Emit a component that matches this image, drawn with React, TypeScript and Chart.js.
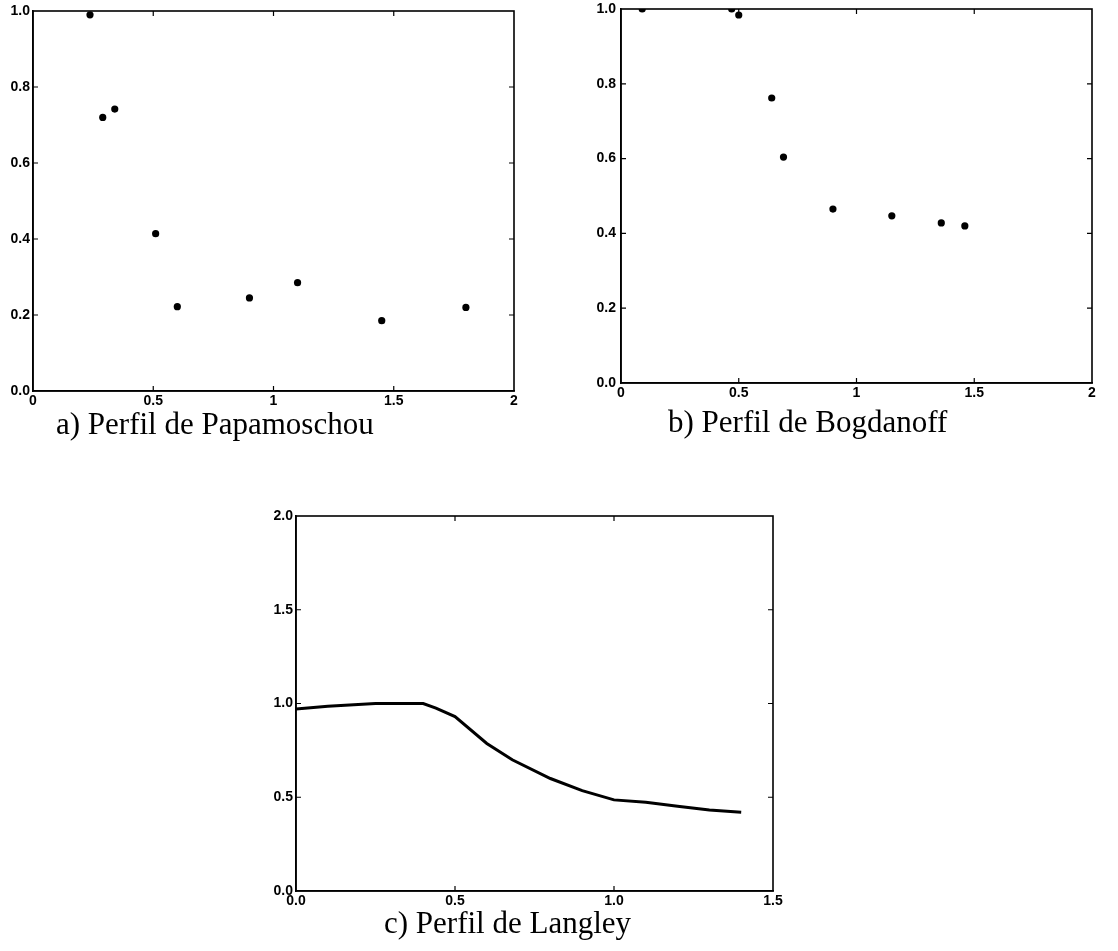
import React, { useEffect, useRef } from "react";
import { Chart, registerables } from "chart.js";

Chart.register(...registerables);

// a) Papamoschou profile: measured points
const papX = [0.237, 0.29, 0.34, 0.51, 0.6, 0.9, 1.1, 1.45, 1.8];
const papY = [0.99, 0.72, 0.742, 0.414, 0.222, 0.245, 0.285, 0.185, 0.22];

// b) Bogdanoff profile: measured points
const bogX = [0.09, 0.47, 0.5, 0.64, 0.69, 0.9, 1.15, 1.36, 1.46];
const bogY = [1.0, 1.0, 0.984, 0.762, 0.604, 0.465, 0.447, 0.428, 0.42];

// c) Langley profile: continuous curve
const lanX = [0, 0.1, 0.25, 0.4, 0.44, 0.5, 0.6, 0.68, 0.8, 0.9, 1.0, 1.1, 1.2, 1.3, 1.4];
const lanY = [0.97, 0.985, 1.0, 1.0, 0.975, 0.93, 0.787, 0.7, 0.6, 0.535, 0.486, 0.473, 0.452, 0.432, 0.42];

// axis ticks
const abXTicks = [0, 0.5, 1, 1.5, 2];
const abXLabels = ["0", "0.5", "1", "1.5", "2"];
const abYTicks = [0, 0.2, 0.4, 0.6, 0.8, 1.0];
const abYLabels = ["0.0", "0.2", "0.4", "0.6", "0.8", "1.0"];
const cXTicks = [0, 0.5, 1, 1.5];
const cXLabels = ["0.0", "0.5", "1.0", "1.5"];
const cYTicks = [0, 0.5, 1, 1.5, 2];
const cYLabels = ["0.0", "0.5", "1.0", "1.5", "2.0"];

const captions = ["a) Perfil de Papamoschou", "b) Perfil de Bogdanoff", "c) Perfil de Langley"];

// frame on all four sides plus short inward tick marks
const framePlugin = {
  id: "frameTicks",
  beforeDatasetsDraw(chart: any) {
    const { ctx, chartArea: a, scales } = chart;
    const len = 5;
    ctx.save();
    ctx.strokeStyle = "#000";
    ctx.lineWidth = 1.6;
    ctx.strokeRect(a.left, a.top, a.right - a.left, a.bottom - a.top);
    ctx.lineWidth = 1.2;
    ctx.beginPath();
    scales.x.ticks.forEach((t: any) => {
      const px = scales.x.getPixelForValue(t.value);
      if (Math.abs(px - a.left) < 2 || Math.abs(px - a.right) < 2) return;
      ctx.moveTo(px, a.bottom);
      ctx.lineTo(px, a.bottom - len);
      ctx.moveTo(px, a.top);
      ctx.lineTo(px, a.top + len);
    });
    scales.y.ticks.forEach((t: any) => {
      const py = scales.y.getPixelForValue(t.value);
      if (Math.abs(py - a.top) < 2 || Math.abs(py - a.bottom) < 2) return;
      ctx.moveTo(a.left, py);
      ctx.lineTo(a.left + len, py);
      ctx.moveTo(a.right, py);
      ctx.lineTo(a.right - len, py);
    });
    ctx.stroke();
    ctx.restore();
  },
};

type PanelProps = {
  xs: number[];
  ys: number[];
  line: boolean;
  xMax: number;
  yMax: number;
  xTicks: number[];
  xLabels: string[];
  yTicks: number[];
  yLabels: string[];
  yWidth: number;
  yPad: number;
  pad: { top: number; right: number; bottom: number };
  width: number;
  height: number;
  left: number;
  top: number;
};

const tickFont = { family: "'Liberation Sans', Arial, sans-serif", size: 14, weight: "bold" as const };

function Panel(p: PanelProps) {
  const ref = useRef<HTMLCanvasElement | null>(null);
  useEffect(() => {
    if (!ref.current) return;
    const data = p.xs.map((x, i) => ({ x, y: p.ys[i] }));
    const chart = new Chart(ref.current, {
      type: p.line ? "line" : "scatter",
      data: {
        datasets: [
          {
            data,
            borderColor: "#000",
            backgroundColor: "#000",
            borderWidth: p.line ? 3 : 0,
            pointRadius: p.line ? 0 : 3.6,
            showLine: p.line,
            tension: 0,
          },
        ],
      },
      options: {
        animation: false,
        responsive: false,
        maintainAspectRatio: false,
        layout: { padding: { left: 0, top: p.pad.top, right: p.pad.right, bottom: p.pad.bottom } },
        plugins: { legend: { display: false }, tooltip: { enabled: false }, title: { display: false } },
        scales: {
          x: {
            type: "linear",
            min: 0,
            max: p.xMax,
            afterBuildTicks: (s: any) => {
              s.ticks = p.xTicks.map((v) => ({ value: v }));
            },
            afterFit: (s: any) => {
              s.height = 22;
            },
            grid: { display: false, drawTicks: false },
            border: { display: true, color: "#000", width: 1.6 },
            ticks: {
              color: "#000",
              font: tickFont,
              padding: 2,
              maxRotation: 0,
              autoSkip: false,
              callback: (_v: any, i: number) => p.xLabels[i],
            },
          },
          y: {
            type: "linear",
            min: 0,
            max: p.yMax,
            afterBuildTicks: (s: any) => {
              s.ticks = p.yTicks.map((v) => ({ value: v }));
            },
            afterFit: (s: any) => {
              s.width = p.yWidth;
            },
            grid: { display: false, drawTicks: false },
            border: { display: true, color: "#000", width: 1.6 },
            ticks: {
              color: "#000",
              font: tickFont,
              padding: p.yPad,
              autoSkip: false,
              callback: (_v: any, i: number) => p.yLabels[i],
            },
          },
        },
      },
      plugins: [framePlugin],
    });
    return () => chart.destroy();
  }, []);
  return (
    <canvas
      ref={ref}
      width={p.width}
      height={p.height}
      style={{ position: "absolute", left: p.left, top: p.top, width: p.width, height: p.height }}
    />
  );
}

const captionStyle: React.CSSProperties = {
  position: "absolute",
  fontFamily: "'Liberation Serif', 'DejaVu Serif', serif",
  fontSize: 31,
  lineHeight: "36px",
  color: "#000",
  whiteSpace: "nowrap",
};

export default function App() {
  return (
    <div style={{ position: "absolute", left: 0, top: 0, width: 1118, height: 951, background: "#fff", overflow: "hidden" }}>
      <Panel
        xs={papX}
        ys={papY}
        line={false}
        xMax={2}
        yMax={1}
        xTicks={abXTicks}
        xLabels={abXLabels}
        yTicks={abYTicks}
        yLabels={abYLabels}
        yWidth={33}
        yPad={3}
        pad={{ top: 21, right: 26, bottom: 7 }}
        width={540}
        height={430}
        left={0}
        top={-10}
      />
      <Panel
        xs={bogX}
        ys={bogY}
        line={false}
        xMax={2}
        yMax={1}
        xTicks={abXTicks}
        xLabels={abXLabels}
        yTicks={abYTicks}
        yLabels={abYLabels}
        yWidth={41}
        yPad={5}
        pad={{ top: 19, right: 26, bottom: 15 }}
        width={538}
        height={430}
        left={580}
        top={-10}
      />
      <Panel
        xs={lanX}
        ys={lanY}
        line={true}
        xMax={1.5}
        yMax={2}
        xTicks={cXTicks}
        xLabels={cXLabels}
        yTicks={cYTicks}
        yLabels={cYLabels}
        yWidth={46}
        yPad={3}
        pad={{ top: 20, right: 17, bottom: 3 }}
        width={540}
        height={420}
        left={250}
        top={496}
      />
      <div style={{ ...captionStyle, left: 56, top: 406 }}>{captions[0]}</div>
      <div style={{ ...captionStyle, left: 668, top: 404 }}>{captions[1]}</div>
      <div style={{ ...captionStyle, left: 384, top: 905 }}>{captions[2]}</div>
    </div>
  );
}
